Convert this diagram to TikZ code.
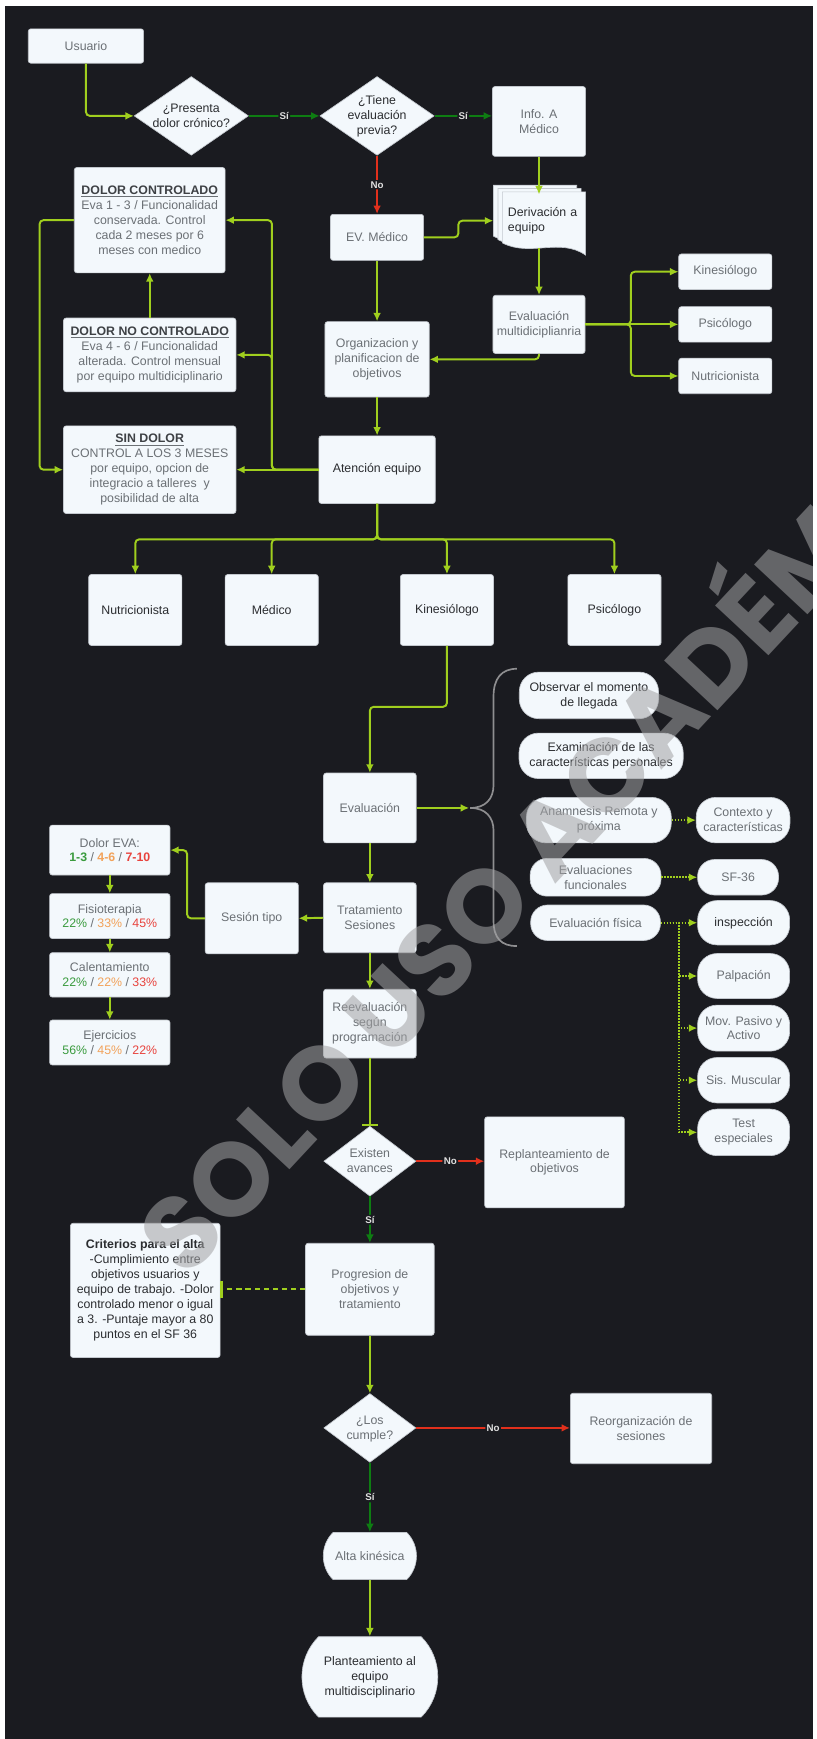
\documentclass[tikz,border=0pt]{standalone}
\usepackage{fontspec}
\setmainfont{Liberation Sans}
\newfontfamily\marcafont{Poppins}
\usepackage{tikz}
\usetikzlibrary{shapes.geometric, shapes.misc, arrows.meta, calc}

\definecolor{fondo}{HTML}{1A1B20}
\definecolor{cajafondo}{HTML}{F3F8FC}
\definecolor{cajaborde}{HTML}{C3C8CE}
\definecolor{textogris}{HTML}{6B7075}
\definecolor{textooscuro}{HTML}{2B2D30}
\definecolor{lima}{HTML}{A0CF1E}
\definecolor{verdesi}{HTML}{0E7D12}
\definecolor{rojono}{HTML}{E2301C}
\definecolor{evaverde}{HTML}{3A9B3E}
\definecolor{evanaranja}{HTML}{F2A25A}
\definecolor{evarojo}{HTML}{E8433D}
\definecolor{llavegris}{HTML}{8E8E90}
\definecolor{marcagris}{HTML}{A2A2A4}

\newcommand{\rombotexto}[1]{\smash{\raisebox{-3pt}{\begin{tabular}{@{}c@{}}#1\end{tabular}}}}
\newcommand{\titulocaja}[1]{\underline{\textbf{\textcolor{textooscuro!70!textogris}{#1}}}}

\begin{document}
\begin{tikzpicture}[x=0.03cm, y=-0.03cm, font=\fontsize{9.5}{11.5}\selectfont]
\tikzstyle{caja} = [rectangle, fill=cajafondo, draw=cajaborde, line width=0.5pt, rounded corners=2pt, align=center, text=textogris, inner sep=2pt]
\tikzstyle{cajaosc} = [caja, text=textooscuro]
\tikzstyle{rombo} = [diamond, fill=cajafondo, draw=cajaborde, line width=0.5pt, inner sep=0pt, text=textogris]
\tikzstyle{pildora} = [caja, rounded corners=15pt]
\tikzstyle{pildorachica} = [caja, rounded corners=13pt]
\tikzstyle{terminal} = [rounded rectangle, rounded rectangle arc length=90, fill=cajafondo, draw=cajaborde, line width=0.5pt, align=center, inner xsep=0pt, inner ysep=2pt]
\tikzstyle{hoja} = [fill=cajafondo, draw=cajaborde, line width=0.5pt]
\tikzstyle{flecha} = [line width=1.5pt, draw=lima, -{Latex[length=6.5pt, width=6pt]}, rounded corners=3pt]
\tikzstyle{flechasi} = [flecha, draw=verdesi]
\tikzstyle{flechano} = [flecha, draw=rojono]
\tikzstyle{punteada} = [line width=1.5pt, draw=lima, dash pattern=on 1.2pt off 1.1pt, -{Latex[length=6.5pt, width=6pt]}]
\tikzstyle{discontinua} = [line width=1.6pt, draw=lima, dash pattern=on 4pt off 3pt, -{Bar[width=13pt]}]
\tikzstyle{tope} = [line width=1.5pt, draw=lima, -{Bar[width=12pt]}]
\tikzstyle{etiqueta} = [font=\bfseries\fontsize{7.5}{8}\selectfont, text=white!88!black, fill=fondo, inner sep=1pt]

\useasboundingbox (0,0) rectangle (736,1568);
\fill [white] (0,0) rectangle (736,1568);
\fill [fondo] (4.5,5.4) rectangle (733,1568);

\node (usuario) [caja, minimum width=3.12cm, minimum height=0.93cm] at (77.5,41.5) {Usuario};
\node (dolor) [rombo, text=textooscuro, minimum width=3.09cm, minimum height=2.13cm] at (172.5,104.5) {\rombotexto{¿Presenta\\dolor crónico?}};
\node (previa) [rombo, text=textooscuro, minimum width=3.09cm, minimum height=2.13cm] at (340,104.5) {\rombotexto{¿Tiene\\evaluación\\previa?}};
\node (info) [caja, minimum width=2.52cm, minimum height=1.89cm] at (486,109.5) {Info. A\\Médico};

\foreach \dx/\dy in {8/6, 4/3, 0/0}
  \draw [hoja, shift={(-\dx,-\dy)}] (453,173) -- (528,173) -- (528,230) .. controls (505,214) and (478,232) .. (453,219) -- cycle;
\node (derivacion) [rectangle, minimum width=2.25cm, minimum height=1.71cm, text width=1.95cm, align=left, text=textooscuro, inner sep=0pt] at (490.5,199) {Derivación a\\equipo};

\node (evmed) [caja, minimum width=2.52cm, minimum height=1.245cm] at (340,214) {EV. Médico};
\node (evalmulti) [caja, minimum width=2.49cm, minimum height=1.575cm] at (486,292.5) {Evaluación\\multidiciplianria};
\node (kine1) [caja, minimum width=2.52cm, minimum height=0.96cm] at (654,245) {Kinesiólogo};
\node (psico1) [caja, minimum width=2.52cm, minimum height=0.96cm] at (654,292.5) {Psicólogo};
\node (nutri1) [caja, minimum width=2.52cm, minimum height=0.96cm] at (654,339) {Nutricionista};
\node (organiza) [caja, minimum width=2.82cm, minimum height=2.04cm] at (340,324) {Organizacion y\\planificacion de\\objetivos};
\node (atencion) [cajaosc, minimum width=3.15cm, minimum height=1.83cm] at (340,423.5) {Atención equipo};

\node (controlado) [caja, minimum width=4.08cm, minimum height=2.85cm] at (135,198.5) {\titulocaja{DOLOR CONTROLADO}\\Eva 1 - 3 / Funcionalidad\\conservada. Control\\cada 2 meses por 6\\meses con medico};
\node (nocontrolado) [caja, minimum width=4.665cm, minimum height=1.995cm] at (135,320) {\titulocaja{DOLOR NO CONTROLADO}\\Eva 4 - 6 / Funcionalidad\\alterada. Control mensual\\por equipo multidiciplinario};
\node (sindolor) [caja, minimum width=4.665cm, minimum height=2.37cm] at (135,423.5) {\titulocaja{SIN DOLOR}\\CONTROL A LOS 3 MESES\\por equipo, opcion de\\integracio a talleres~ y\\posibilidad de alta};

\node (nutri2) [cajaosc, minimum width=2.52cm, minimum height=1.92cm] at (122,550) {Nutricionista};
\node (medico2) [cajaosc, minimum width=2.52cm, minimum height=1.92cm] at (245,550) {Médico};
\node (kine2) [cajaosc, minimum width=2.52cm, minimum height=1.92cm] at (403,550) {Kinesiólogo};
\node (psico2) [cajaosc, minimum width=2.52cm, minimum height=1.92cm] at (554,550) {Psicólogo};

\node (evaluacion) [caja, minimum width=2.505cm, minimum height=1.89cm] at (333.5,728.5) {Evaluación};
\node (tratamiento) [caja, minimum width=2.505cm, minimum height=1.89cm] at (333.5,827.5) {Tratamiento\\Sesiones};
\node (sesion) [caja, minimum width=2.52cm, minimum height=1.92cm] at (227,828) {Sesión tipo};
\node (eva) [caja, minimum width=3.255cm, minimum height=1.35cm] at (99,766.5) {Dolor EVA:\\\textbf{\textcolor{evaverde}{1-3}} / \textbf{\textcolor{evanaranja}{4-6}} / \textbf{\textcolor{evarojo}{7-10}}};
\node (fisio) [caja, minimum width=3.255cm, minimum height=1.215cm] at (99,826) {Fisioterapia\\\textcolor{evaverde}{22\%} / \textcolor{evanaranja}{33\%} / \textcolor{evarojo}{45\%}};
\node (calent) [caja, minimum width=3.255cm, minimum height=1.2cm] at (99,879) {Calentamiento\\\textcolor{evaverde}{22\%} / \textcolor{evanaranja}{22\%} / \textcolor{evarojo}{33\%}};
\node (ejerc) [caja, minimum width=3.255cm, minimum height=1.215cm] at (99,940) {Ejercicios\\\textcolor{evaverde}{56\%} / \textcolor{evanaranja}{45\%} / \textcolor{evarojo}{22\%}};
\node (reeval) [caja, minimum width=2.505cm, minimum height=1.86cm] at (333.5,923) {Reevaluación\\según\\programación};

\node (observar) [pildora, text=textooscuro, minimum width=3.765cm, minimum height=1.26cm] at (531,627) {Observar el momento\\de llegada};
\node (examina) [pildora, text=textooscuro, minimum width=4.44cm, minimum height=1.23cm] at (542,681.5) {Examinación de las\\características personales};
\node (anamnesis) [pildora, minimum width=3.915cm, minimum height=1.23cm] at (540,739.5) {Anamnesis Remota y\\próxima};
\node (contexto) [pildora, minimum width=2.535cm, minimum height=1.23cm] at (670,739.5) {Contexto y\\características};
\node (evfunc) [pildorachica, minimum width=3.54cm, minimum height=1.02cm] at (537,791) {Evaluaciones\\funcionales};
\node (sf) [pildorachica, minimum width=2.19cm, minimum height=0.96cm] at (665.5,791) {SF-36};
\node (evfis) [pildorachica, minimum width=3.51cm, minimum height=0.96cm] at (537,832) {Evaluación física};
\node (inspeccion) [pildora, text=textooscuro, minimum width=2.49cm, minimum height=1.2cm] at (670.5,832) {inspección};
\node (palpacion) [pildora, minimum width=2.49cm, minimum height=1.215cm] at (670.5,880) {Palpación};
\node (mov) [pildora, minimum width=2.49cm, minimum height=1.245cm] at (670.5,927) {Mov. Pasivo y\\Activo};
\node (sis) [pildora, minimum width=2.49cm, minimum height=1.23cm] at (670.5,974) {Sis. Muscular};
\node (test) [pildora, minimum width=2.49cm, minimum height=1.26cm] at (670.5,1021) {Test\\especiales};
\coordinate (llave) at (423,728.5);

\node (avances) [rombo, minimum width=2.49cm, minimum height=1.89cm] at (333.5,1047) {\rombotexto{Existen\\avances}};
\node (replantea) [caja, minimum width=3.78cm, minimum height=2.46cm] at (500,1048) {Replanteamiento de\\objetivos};
\node (progresion) [caja, minimum width=3.48cm, minimum height=2.49cm] at (333.5,1162.5) {Progresion de\\objetivos y\\tratamiento};
\node (criterios) [cajaosc, minimum width=4.05cm, minimum height=3.63cm] at (131,1163.5) {\textbf{Criterios para el alta}\\-Cumplimiento entre\\objetivos usuarios y\\equipo de trabajo. -Dolor\\controlado menor o igual\\a 3. -Puntaje mayor a 80\\puntos en el SF 36};
\node (cumple) [rombo, minimum width=2.49cm, minimum height=1.86cm] at (333.5,1287.5) {\rombotexto{¿Los\\cumple?}};
\node (reorg) [caja, minimum width=3.825cm, minimum height=1.905cm] at (578,1288) {Reorganización de\\sesiones};
\node (alta) [terminal, text=textogris, minimum width=2.52cm, minimum height=1.275cm] at (333.5,1403) {Alta kinésica};
\node (plantea) [terminal, text=textooscuro, minimum width=3.675cm, minimum height=2.175cm] at (333.5,1512) {Planteamiento al\\equipo\\multidisciplinario};

\draw [flecha] (usuario.south) |- (dolor.west);
\draw [flechasi] (dolor.east) -- node [etiqueta] {Sí} (previa.west);
\draw [flechasi] (previa.east) -- node [etiqueta] {Sí} (previa.east -| info.west);
\draw [flechano] (previa.south) -- node [etiqueta] {No} (evmed.north);
\draw [flecha] (info.south) -- ($(info.south |- derivacion.north)+(0,5)$);
\draw [flecha] (evmed.east) -- ++(31,0) |- ($(derivacion.west)+(-8,0)$);
\draw [flecha] ($(evalmulti.north |- derivacion.south)+(0,-4)$) -- (evalmulti.north);
\draw [flecha] (evalmulti.east) -- (psico1.west);
\draw [flecha] (evalmulti.east) -- ++(41,0) |- (kine1.west);
\draw [flecha] (evalmulti.east) -- ++(41,0) |- (nutri1.west);
\draw [flecha] (evalmulti.south) |- (organiza.east);
\draw [flecha] (evmed.south) -- (organiza.north);
\draw [flecha] (organiza.south) -- (atencion.north);
\draw [flecha] (atencion.west) -- (sindolor.east);
\draw [flecha] (atencion.west) -- ++(-42,0) |- (nocontrolado.east);
\draw [flecha] (atencion.west) -- ++(-42,0) |- (controlado.east);
\draw [flecha] (nocontrolado.north) -- (controlado.south);
\draw [flecha] (controlado.west) -- ++(-31,0) |- (sindolor.west);
\foreach \destino in {nutri2, medico2, kine2, psico2}
  \draw [flecha] (atencion.south) -- ++(0,32) -| (\destino.north);
\draw [flecha] (kine2.south) -- ++(0,55) -| (evaluacion.north);
\draw [flecha] (evaluacion.south) -- (tratamiento.north);
\draw [flecha] (tratamiento.south) -- (reeval.north);
\draw [flecha] (tratamiento.west) -- (sesion.east);
\draw [flecha] (sesion.west) -- ++(-16,0) |- (eva.east);
\draw [flecha] (eva.south) -- (fisio.north);
\draw [flecha] (fisio.south) -- (calent.north);
\draw [flecha] (calent.south) -- (ejerc.north);
\draw [flecha] (evaluacion.east) -- (llave);
\draw [llavegris, line width=1.3pt] (466,603) .. controls (452,603) and (445,612) .. (445,628) -- (445,708) .. controls (445,720) and (438,728.5) .. (424,728.5) .. controls (438,728.5) and (445,737) .. (445,749) -- (445,830) .. controls (445,846) and (452,853) .. (466,853);
\draw [punteada] (anamnesis.east) -- (contexto.west);
\draw [punteada] (evfunc.east) -- (sf.west);
\draw [punteada] (evfis.east) -- (inspeccion.west);
\foreach \destino in {palpacion, mov, sis, test}
  \draw [punteada] (evfis.east) -- ++(16.5,0) |- (\destino.west);
\draw [tope] (reeval.south) -- (avances.north);
\draw [flechano] (avances.east) -- node [etiqueta] {No} (avances.east -| replantea.west);
\draw [flechasi] (avances.south) -- node [etiqueta] {Sí} (progresion.north);
\draw [discontinua] (progresion.west) -- (progresion.west -| criterios.east);
\draw [flecha] (progresion.south) -- (cumple.north);
\draw [flechano] (cumple.east) -- node [etiqueta] {No} (cumple.east -| reorg.west);
\draw [flechasi] (cumple.south) -- node [etiqueta] {Sí} (alta.north);
\draw [flecha] (alta.south) -- (plantea.north);

\begin{scope}
\clip (4.5,5.4) rectangle (733,1568);
\node (marca) [rotate=47, anchor=base west, text=marcagris, opacity=0.55, inner sep=0pt, font=\marcafont\bfseries\fontsize{80}{80}\selectfont] at (168,1155) {SOLO USO ACADÉMICO};
\end{scope}
\end{tikzpicture}
\end{document}
